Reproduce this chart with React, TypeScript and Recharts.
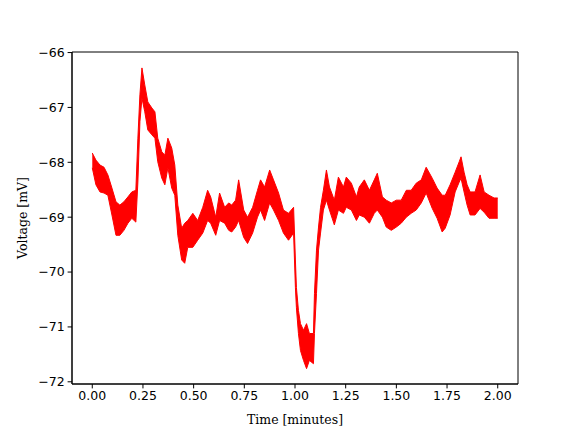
import React from 'react';
import {
  ComposedChart,
  Area,
  XAxis,
  YAxis,
  ReferenceArea,
  Label
} from 'recharts';

// Time in minutes; the trace is drawn as the band between its low and high envelope
const time = [
  0.0, 0.018, 0.038, 0.058, 0.077, 0.097, 0.117, 0.136, 0.156, 0.176, 0.195, 0.215,
  0.225, 0.235, 0.245, 0.259, 0.274, 0.294, 0.309, 0.323, 0.343, 0.358, 0.373, 0.392,
  0.407, 0.422, 0.441, 0.456, 0.471, 0.496, 0.52, 0.545, 0.569, 0.584, 0.609, 0.628,
  0.653, 0.673, 0.688, 0.707, 0.722, 0.747, 0.766, 0.791, 0.815, 0.83, 0.85, 0.875,
  0.894, 0.919, 0.943, 0.968, 0.993, 1.002, 1.007, 1.017, 1.027, 1.042, 1.057, 1.071,
  1.091, 1.096, 1.106, 1.116, 1.126, 1.14, 1.155, 1.17, 1.194, 1.214, 1.239, 1.253,
  1.278, 1.303, 1.317, 1.342, 1.367, 1.391, 1.406, 1.431, 1.45, 1.475, 1.5, 1.524,
  1.549, 1.573, 1.598, 1.623, 1.647, 1.677, 1.701, 1.726, 1.741, 1.765, 1.79, 1.81,
  1.819, 1.834, 1.849, 1.864, 1.888, 1.913, 1.933, 1.957, 1.982, 2.0
];

const voltageHigh = [
  -67.83, -67.96, -68.05, -68.09, -68.23, -68.47, -68.72, -68.78, -68.72, -68.63, -68.54, -68.51,
  -67.56, -66.77, -66.28, -66.59, -66.9, -67.01, -67.08, -67.56, -67.81, -67.87, -67.56, -67.74,
  -68.05, -68.78, -69.2, -69.11, -69.06, -68.93, -69.06, -68.82, -68.51, -68.63, -69.0, -68.56,
  -68.82, -68.74, -68.78, -68.69, -68.32, -68.87, -69.0, -68.82, -68.51, -68.32, -68.45, -68.14,
  -68.32, -68.56, -68.87, -68.93, -68.82, -69.78, -70.28, -70.7, -70.94, -71.06, -70.94, -71.12,
  -71.12, -70.39, -69.6, -69.18, -68.82, -68.51, -68.14, -68.45, -68.69, -68.27, -68.45, -68.27,
  -68.38, -68.63, -68.45, -68.32, -68.51, -68.32, -68.2, -68.63, -68.69, -68.74, -68.69, -68.69,
  -68.51, -68.51, -68.38, -68.32, -68.09, -68.29, -68.47, -68.6, -68.6, -68.41, -68.18, -67.99,
  -67.9, -68.18, -68.41, -68.54, -68.54, -68.23, -68.54, -68.6, -68.65, -68.65
];

const voltageLow = [
  -68.1, -68.41, -68.54, -68.56, -68.6, -68.96, -69.33, -69.33, -69.24, -69.11, -69.02, -69.09,
  -68.36, -67.26, -66.83, -67.08, -67.41, -67.5, -67.56, -67.99, -68.29, -68.41, -68.1, -68.47,
  -68.6, -69.33, -69.78, -69.84, -69.55, -69.55, -69.42, -69.29, -69.06, -69.11, -69.33, -69.06,
  -69.11, -69.24, -69.27, -69.18, -69.06, -69.37, -69.48, -69.29, -69.0, -68.87, -69.06, -68.74,
  -68.87, -69.06, -69.29, -69.42, -69.29, -70.28, -70.65, -71.12, -71.43, -71.61, -71.76, -71.61,
  -71.67, -71.12, -70.39, -69.6, -69.29, -68.87, -68.69, -68.87, -69.14, -68.87, -68.93, -68.82,
  -68.87, -69.06, -68.96, -69.0, -69.11, -68.93, -68.87, -69.0, -69.18, -69.24, -69.18, -69.11,
  -69.0, -68.93, -68.87, -68.74, -68.56, -68.84, -69.02, -69.27, -69.2, -68.96, -68.54, -68.36,
  -68.29, -68.54, -68.78, -68.96, -68.96, -68.84, -68.91, -69.02, -69.02, -69.02
];

const xTicks = [0, 0.25, 0.5, 0.75, 1.0, 1.25, 1.5, 1.75, 2.0];
const yTicks = [-72, -71, -70, -69, -68, -67, -66];

const xDomain: [number, number] = [-0.1, 2.1];
const yDomain: [number, number] = [-72.04, -65.99];

const data = time.map((t, i) => ({ t, band: [voltageLow[i], voltageHigh[i]] }));

const tickFont = { fontFamily: 'DejaVu Sans', fontSize: 12.5, fill: '#000' };
const labelFont = { fontFamily: 'DejaVu Serif', fontSize: 12.5, fill: '#000' };

const fmtY = (v: number) => (v < 0 ? '\u2212' + Math.abs(v) : String(v));

const YLabel = ({ viewBox }: any) => {
  const cy = viewBox.y + viewBox.height / 2;
  return (
    <text
      x={22}
      y={cy}
      transform={`rotate(-90, 22, ${cy})`}
      textAnchor="middle"
      dominantBaseline="central"
      style={labelFont}
    >
      Voltage [mV]
    </text>
  );
};

const App = () => {
  return (
    <div style={{ position: 'absolute', left: 0, top: 0, background: '#fff' }}>
      <ComposedChart
        width={576}
        height={432}
        data={data}
        margin={{ top: 52, right: 58, bottom: 0, left: 0 }}
      >
        <XAxis
          dataKey="t"
          type="number"
          domain={xDomain}
          ticks={xTicks}
          allowDataOverflow
          tickFormatter={(v: number) => v.toFixed(2)}
          tick={tickFont}
          tickSize={4.4}
          tickMargin={3}
          stroke="#000"
          height={48}
        >
          <Label
            value="Time [minutes]"
            position="insideBottom"
            offset={8}
            style={labelFont}
          />
        </XAxis>
        <YAxis
          type="number"
          domain={yDomain}
          ticks={yTicks}
          allowDataOverflow
          tickFormatter={fmtY}
          tick={tickFont}
          tickSize={4.4}
          tickMargin={3}
          stroke="#000"
          width={72}
        >
          <Label content={<YLabel />} />
        </YAxis>
        <Area
          type="linear"
          dataKey="band"
          stroke="#ff0000"
          strokeWidth={1}
          fill="#ff0000"
          fillOpacity={1}
          isAnimationActive={false}
          dot={false}
          activeDot={false}
        />
        <ReferenceArea
          x1={xDomain[0]}
          x2={xDomain[1]}
          y1={yDomain[0]}
          y2={yDomain[1]}
          fill="none"
          stroke="#000"
          strokeWidth={1}
          ifOverflow="visible"
        />
      </ComposedChart>
    </div>
  );
};

export default App;
